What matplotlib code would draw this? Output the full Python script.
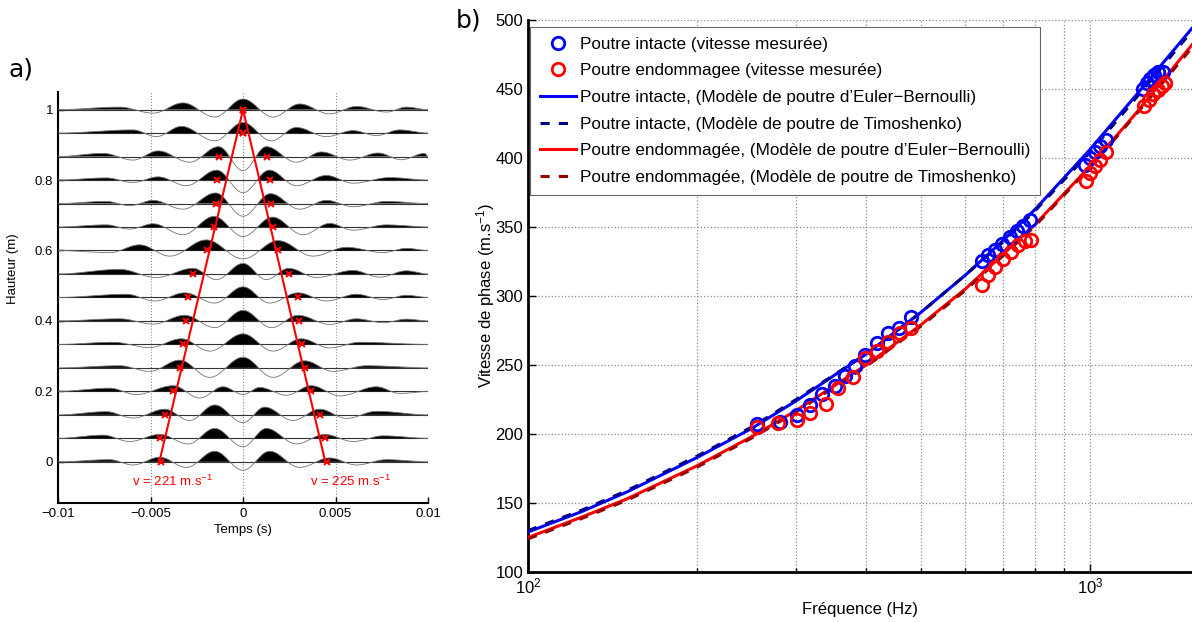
import numpy as np
import matplotlib
matplotlib.use('Agg')
import matplotlib.pyplot as plt
from matplotlib.ticker import FixedLocator, NullFormatter

plt.rcParams['font.family'] = ['Liberation Sans', 'DejaVu Sans']
plt.rcParams['mathtext.fontset'] = 'custom'
plt.rcParams['mathtext.rm'] = 'Liberation Sans'
plt.rcParams['mathtext.it'] = 'Liberation Sans'

# ---------------- Panel a data ----------------
heights = [0.0, 0.0667, 0.1333, 0.2, 0.2667, 0.3333, 0.4, 0.4667,
           0.5333, 0.6, 0.6667, 0.7333, 0.8, 0.8667, 0.9333, 1.0]

# extrema of each trace: times (ms) and amplitudes (1e-3 height units), bottom row first
trace_t = [
    [-7.21, -5.95, -4.50, -3.06, -1.53, 0, 1.44, 3.06, 4.68, 6.13, 7.75],
    [-7.57, -6.13, -4.50, -2.97, -1.53, 0, 1.26, 2.88, 4.41, 5.95, 7.57],
    [-7.39, -5.95, -4.23, -2.88, -1.53, 0, 1.17, 2.70, 4.14, 5.59, 7.21],
    [-7.21, -5.77, -3.78, -2.34, -1.08, 0, 0.90, 2.34, 3.69, 5.23, 7.21, 8.47],
    [-6.67, -5.05, -3.42, -1.80, 0, 1.62, 3.33, 4.86, 6.67],
    [-7.03, -5.05, -3.33, -1.80, 0, 1.62, 3.15, 4.68, 6.31],
    [-6.67, -4.86, -3.15, -1.53, 0, 1.53, 2.97, 4.68, 6.13, 7.57, 8.83],
    [-6.31, -4.77, -3.15, -1.53, 0, 1.44, 2.97, 4.50, 6.13, 7.57, 8.83],
    [-6.67, -4.68, -2.70, -1.44, 0, 1.26, 2.47, 3.96, 5.95, 7.39, 8.83],
    [-7.20, -5.59, -3.96, -1.98, 0, 1.89, 3.78, 5.59, 7.57, 8.83],
    [-7.39, -6.13, -4.86, -3.24, -1.57, 0, 1.59, 3.24, 4.68, 5.95, 7.75],
    [-7.39, -6.13, -4.86, -3.24, -1.48, 0, 1.48, 3.06, 4.50, 5.95, 7.75],
    [-7.39, -5.95, -4.59, -3.06, -1.42, 0, 1.42, 2.88, 4.50, 5.95, 7.93],
    [-7.57, -5.95, -4.59, -2.88, -1.32, 0, 1.26, 2.88, 4.23, 5.77, 7.30, 8.56, 9.82],
    [-5.95, -4.68, -3.33, -1.53, 0, 1.53, 2.88, 4.50, 5.95, 7.21, 8.47],
    [-6.67, -4.86, -3.24, -1.53, 0, 1.62, 3.06, 4.68, 6.13, 7.75, 8.83],
]
trace_a = [
    [6, -9, 13, -16, 30, -24, 30, -16, 11, -9, 6],
    [9, -9, 11, -16, 28, -24, 28, -16, 11, -9, 7],
    [9, -9, 16, -16, 28, -22, 22, -16, 16, -10, 10],
    [9, -9, 16, -19, 13, -9, 11, -11, 16, -13, 13, -6],
    [6, -10, 22, -27, 30, -27, 20, -10, 6],
    [6, -9, 16, -19, 30, -19, 16, -10, 6],
    [6, -9, 16, -19, 30, -19, 16, -10, 6, -5, 5],
    [9, -10, 13, -16, 30, -16, 13, -10, 9, -6, 6],
    [13, -10, 16, -16, 30, -16, 16, -10, 10, -9, 9],
    [-6, 16, -16, 30, -24, 28, -16, 9, -6, 6],
    [6, -6, 9, -22, 30, -27, 28, -22, 10, -9, 6],
    [6, -6, 9, -16, 30, -36, 28, -16, 9, -9, 6],
    [6, -7, 9, -16, 28, -36, 28, -16, 13, -9, 7],
    [9, -10, 16, -16, 28, -40, 28, -16, 13, -10, 10, -9, 9],
    [9, -10, 19, -22, 30, -22, 16, -10, 7, -7, 9],
    [7, -10, 19, -21, 30, -21, 16, -12, 9, -7, 7],
]

# picked arrival times (ms)
pick_left = [-4.46, -4.50, -4.23, -3.78, -3.42, -3.23, -3.10, -2.96,
             -2.69, -1.96, -1.55, -1.46, -1.41, -1.30, 0.0, 0.0]
pick_right = [4.52, 4.43, 4.16, 3.66, 3.35, 3.17, 3.00, 2.99,
              2.48, 1.90, 1.60, 1.50, 1.44, 1.28, 0.0, 0.0]
v_left = 221
v_right = 225

# ---------------- Panel b data ----------------
f_model = [100, 125, 150, 200, 250, 300, 400, 500, 600, 700, 800, 1000, 1200, 1520]
v_eb_intact = [129, 144, 158, 183, 204, 224, 258, 288, 315, 340, 363, 406, 444, 494]
v_ti_intact = [130, 145, 159, 184, 205, 225, 258, 288, 315, 339, 362, 404, 442, 492]
v_eb_damaged = [125, 140, 153, 177, 198, 217, 250, 279, 305, 330, 352, 394, 431, 482]
v_ti_damaged = [124, 139, 152, 176, 197, 216, 249, 278, 304, 329, 351, 393, 430, 480]

f_meas_intact = [256, 281, 301, 318, 334, 352, 367, 382, 398, 418, 437, 457, 480,
                 642, 659, 678, 699, 721, 741, 761, 782,
                 980, 1000, 1021, 1042, 1068,
                 1241, 1262, 1279, 1300, 1323, 1350]
v_meas_intact = [207.5, 209, 214, 221, 229, 235, 242, 249, 257, 266, 273, 277, 285,
                 325, 330, 333, 338, 343, 347, 351, 355,
                 395, 400, 404.5, 408.5, 413,
                 450, 454, 457, 460, 462, 462]
f_meas_damaged = [256, 279, 301, 318, 339, 356, 379, 398, 418, 437, 459, 480,
                  642, 659, 678, 701, 724, 745, 766, 787,
                  984, 1000, 1021, 1042, 1068,
                  1250, 1272, 1293, 1323, 1342, 1361]
v_meas_damaged = [205, 208, 210, 215, 222, 233, 241, 255, 260, 267, 273, 277,
                  308, 315, 321, 327, 332, 337, 339.5, 340.5,
                  383, 389, 394, 398.5, 404.5,
                  438, 442, 446, 449, 452, 454]

# ---------------- Figure ----------------
fig = plt.figure(figsize=(11.92, 6.22), dpi=100)

# ---- panel a ----
axa = fig.add_axes([0.0487, 0.1913, 0.3104, 0.6608])
tg = np.linspace(-10, 10, 2001)
for h, te, ae in zip(heights, trace_t, trace_a):
    tt = [-10.0] + list(te) + [10.0]
    aa = [0.0] + list(ae) + [0.0]
    y = np.zeros_like(tg)
    for i in range(len(tt) - 1):
        m = (tg >= tt[i]) & (tg <= tt[i + 1])
        u = (tg[m] - tt[i]) / (tt[i + 1] - tt[i])
        y[m] = aa[i] + (aa[i + 1] - aa[i]) * (1 - np.cos(np.pi * u)) / 2
    ts = tg * 1e-3
    ys = h + y * 1e-3
    axa.plot([-0.01, 0.01], [h, h], color='0.2', lw=0.8, zorder=2)
    axa.fill_between(ts, h, ys, where=y > 0, color='k', lw=0, interpolate=True, zorder=3)
    axa.plot(ts, ys, color='0.45', lw=0.6, zorder=3)

hl = np.array([0.0, 1.0])
axa.plot(-(1 - hl) / v_left, hl, color='red', lw=1.5, zorder=4)
axa.plot((1 - hl) / v_right, hl, color='red', lw=1.5, zorder=4)
axa.plot(np.array(pick_left) * 1e-3, heights, 'x', color='red', ms=5, mew=1.5, zorder=5)
axa.plot(np.array(pick_right) * 1e-3, heights, 'x', color='red', ms=5, mew=1.5, zorder=5)
axa.text(-0.0038, -0.057, 'v = 221 m.s$^{-1}$', color='red', fontsize=9.5, ha='center', va='center')
axa.text(0.0058, -0.057, 'v = 225 m.s$^{-1}$', color='red', fontsize=9.5, ha='center', va='center')

axa.set_xlim(-0.01, 0.01)
axa.set_ylim(-0.117, 1.05)
axa.set_xticks([-0.01, -0.005, 0, 0.005, 0.01])
axa.set_xticklabels(['\u22120.01', '\u22120.005', '0', '0.005', '0.01'])
axa.set_yticks([0, 0.2, 0.4, 0.6, 0.8, 1])
axa.set_yticklabels(['0', '0.2', '0.4', '0.6', '0.8', '1'])
axa.tick_params(direction='in', labelsize=9.5, length=4, width=1)
axa.grid(True, linestyle=':', color='0.55', lw=0.8)
axa.set_axisbelow(True)
for s in ['top', 'right']:
    axa.spines[s].set_visible(False)
for s in ['left', 'bottom']:
    axa.spines[s].set_linewidth(1.5)
axa.set_xlabel('Temps (s)', fontsize=9.5, labelpad=3)
axa.set_ylabel('Hauteur (m)', fontsize=9.5, labelpad=8)
axa.yaxis.set_label_coords(-0.105, 0.57)
fig.text(0.007, 0.877, 'a)', fontsize=18, family='DejaVu Sans')

# ---- panel b ----
axb = fig.add_axes([0.443, 0.0804, 0.557, 0.8875])
axb.set_xscale('log')
axb.plot(f_meas_intact, v_meas_intact, 'o', mfc='none', mec='blue', ms=9, mew=2,
         label='Poutre intacte (vitesse mesurée)', zorder=4)
axb.plot(f_meas_damaged, v_meas_damaged, 'o', mfc='none', mec='red', ms=9, mew=2,
         label='Poutre endommagee (vitesse mesurée)', zorder=4)
axb.plot(f_model, v_eb_intact, '-', color='blue', lw=2.2,
         label='Poutre intacte, (Modèle de poutre d\u2019Euler\u2212Bernoulli)', zorder=3)
axb.plot(f_model, v_ti_intact, '--', color='#00008B', lw=2.2, dashes=(3, 3),
         label='Poutre intacte, (Modèle de poutre de Timoshenko)', zorder=3)
axb.plot(f_model, v_eb_damaged, '-', color='red', lw=2.2,
         label='Poutre endommagée, (Modèle de poutre d\u2019Euler\u2212Bernoulli)', zorder=3)
axb.plot(f_model, v_ti_damaged, '--', color='#990000', lw=2.2, dashes=(3, 3),
         label='Poutre endommagée, (Modèle de poutre de Timoshenko)', zorder=3)

axb.set_xlim(100, 1520)
axb.set_ylim(100, 500)
axb.set_yticks(np.arange(100, 501, 50))
axb.xaxis.set_minor_locator(FixedLocator([200, 300, 400, 500, 600, 700, 800, 900]))
axb.xaxis.set_minor_formatter(NullFormatter())
axb.tick_params(which='both', direction='in', labelsize=12, width=1)
axb.tick_params(which='major', length=6)
axb.tick_params(which='minor', length=3)
axb.grid(True, which='major', linestyle=':', color='0.55', lw=0.9)
axb.grid(True, which='minor', axis='x', linestyle=':', color='0.55', lw=0.9)
axb.set_axisbelow(True)
for s in ['top', 'right']:
    axb.spines[s].set_visible(False)
for s in ['left', 'bottom']:
    axb.spines[s].set_linewidth(2)
axb.set_xlabel('Fréquence (Hz)', fontsize=12, labelpad=4)
axb.set_ylabel('Vitesse de phase (m.s$^{-1}$)', fontsize=12, labelpad=-1)
leg = axb.legend(loc='upper left', bbox_to_anchor=(0.003, 0.988), fontsize=12.3,
                 fancybox=False, framealpha=1, edgecolor='0.4', handlelength=2.1,
                 handletextpad=0.2, borderpad=0.6, labelspacing=0.68, borderaxespad=0)
leg.get_frame().set_linewidth(0.8)
fig.text(0.382, 0.955, 'b)', fontsize=18, family='DejaVu Sans')

fig.savefig('out.png', dpi=100)
